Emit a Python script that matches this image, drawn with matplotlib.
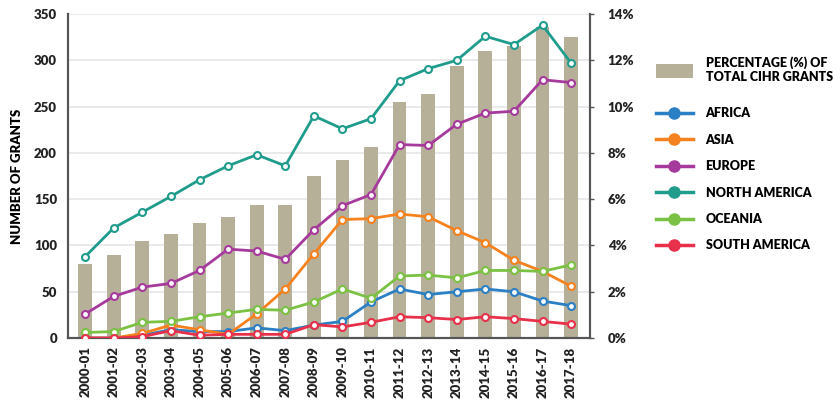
import numpy as np
import matplotlib
matplotlib.use("Agg")
import matplotlib.pyplot as plt
from matplotlib.lines import Line2D
from matplotlib.patches import Patch

years = ["2000-01", "2001-02", "2002-03", "2003-04", "2004-05", "2005-06",
         "2006-07", "2007-08", "2008-09", "2009-10", "2010-11", "2011-12",
         "2012-13", "2013-14", "2014-15", "2015-16", "2016-17", "2017-18"]

pct_total = [3.2, 3.6, 4.2, 4.5, 4.95, 5.25, 5.75, 5.75, 7.0, 7.7, 8.25,
             10.2, 10.55, 11.75, 12.4, 12.6, 13.45, 13.0]

africa = [0, 0, 3, 9, 7, 7, 11, 8, 14, 18, 39, 53, 47, 50, 53, 50, 40, 35]
asia = [0, 0, 5, 14, 9, 4, 26, 53, 91, 128, 129, 134, 131, 116, 103, 84, 72, 56]
europe = [26, 45, 55, 59, 73, 96, 94, 85, 117, 143, 155, 209, 208, 231, 243, 245, 279, 276]
north_america = [88, 119, 136, 153, 171, 186, 198, 186, 240, 226, 237, 278, 291, 300, 326, 317, 338, 297]
oceania = [6, 7, 17, 18, 23, 27, 31, 30, 39, 53, 43, 67, 68, 65, 73, 73, 72, 79]
south_america = [0, 0, 1.5, 8, 3, 4, 4, 4, 14.5, 12, 17, 23, 22, 20, 23, 21, 18, 15]

series = [
    ("AFRICA", africa, "#2b7fc4"),
    ("ASIA", asia, "#f5821f"),
    ("EUROPE", europe, "#a63a9c"),
    ("NORTH AMERICA", north_america, "#1f9c8c"),
    ("OCEANIA", oceania, "#7bc143"),
    ("SOUTH AMERICA", south_america, "#e8304a"),
]

bar_color = "#b7b099"
axis_color = "#555555"
font = ["Lato", "DejaVu Sans"]
plt.rcParams["font.family"] = font
plt.rcParams["font.weight"] = "heavy"

fig = plt.figure(figsize=(8.4, 4.01), dpi=100)
ax = fig.add_axes([0.081, 0.157, 0.621, 0.808])
ax2 = ax.twinx()

x = np.arange(len(years))

# bars on the right (percentage) axis, drawn below the lines
ax2.bar(x, pct_total, width=0.48, color=bar_color, zorder=2)
ax2.set_ylim(0, 14)
ax2.set_yticks(range(0, 15, 2))
ax2.set_yticklabels([f"{v}%" for v in range(0, 15, 2)])
ax2.grid(axis="y", color="#e6e6e6", linewidth=1.2, zorder=0)
ax2.set_axisbelow(True)

ax.set_zorder(ax2.get_zorder() + 1)
ax.patch.set_visible(False)

for name, vals, col in series:
    ax.plot(x, vals, color=col, linewidth=2, marker="o", markersize=5,
            markerfacecolor="white", markeredgecolor=col, markeredgewidth=1.5,
            zorder=3)

ax.set_ylim(0, 350)
ax.set_yticks(range(0, 351, 50))
ax.set_xlim(-0.6, len(years) - 0.35)
ax.set_xticks(x)
ax.set_xticklabels(years, rotation=90)
ax.set_ylabel("NUMBER OF GRANTS", fontsize=9.5, fontweight="heavy", labelpad=8)

for a in (ax, ax2):
    for s in a.spines.values():
        s.set_color(axis_color)
        s.set_linewidth(1.5)
    a.spines["top"].set_visible(False)
    a.tick_params(labelsize=9.5, colors="#222222", length=3, width=1)
ax.tick_params(axis="x", length=0, pad=6)
ax.tick_params(axis="y", length=0, pad=8)
ax2.tick_params(axis="y", direction="out", pad=10, color=axis_color)

leg_font = {"size": 9, "weight": "heavy", "family": font}

# bar legend on its own, then the region lines below it
leg1 = fig.legend([Patch(facecolor=bar_color, edgecolor="none")],
                  ["PERCENTAGE (%) OF\nTOTAL CIHR GRANTS"], loc="upper left",
                  bbox_to_anchor=(0.767, 0.887), frameon=False, prop=leg_font,
                  handlelength=3.0, handleheight=1.3, handletextpad=1.0)

handles = []
labels = []
for name, vals, col in series:
    handles.append(Line2D([0], [0], color=col, linewidth=2.5, marker="o",
                          markersize=8, markerfacecolor=col,
                          markeredgecolor=col))
    labels.append(name)

leg2 = fig.legend(handles, labels, loc="upper left",
                  bbox_to_anchor=(0.767, 0.760), frameon=False, prop=leg_font,
                  handlelength=3.0, handletextpad=1.0, labelspacing=1.15)

fig.savefig("out.png", dpi=100)
